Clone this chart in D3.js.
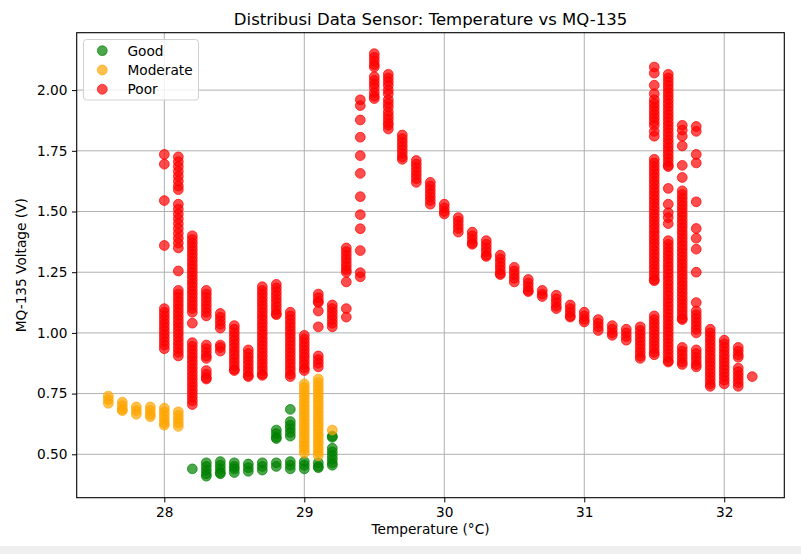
<!DOCTYPE html>
<html><head><meta charset="utf-8">
<script src="https://cdn.jsdelivr.net/npm/d3@7"></script>
<style>body{margin:0;background:#fff;}svg{display:block;}</style>
</head><body>
<svg id="chart" width="801" height="554"></svg>
<script>
const categories = ["Good", "Moderate", "Poor"];
const colors = ["green", "orange", "red"];
const xTicks = [28, 29, 30, 31, 32];
const yTicks = [0.50, 0.75, 1.00, 1.25, 1.50, 1.75, 2.00];

const good = [
  [28.2, [0.44]],
  [28.3, [0.465, 0.45, 0.435, 0.42, 0.41]],
  [28.4, [0.47, 0.455, 0.44, 0.425, 0.42]],
  [28.5, [0.465, 0.45, 0.44, 0.425]],
  [28.6, [0.46, 0.445, 0.43]],
  [28.7, [0.465, 0.45, 0.435]],
  [28.8, [0.465, 0.45, 0.60, 0.585, 0.57, 0.565]],
  [28.9, [0.47, 0.455, 0.44, 0.635, 0.62, 0.605, 0.59, 0.575, 0.685]],
  [29.0, [0.47, 0.455, 0.44]],
  [29.1, [0.465, 0.45, 0.445]],
  [29.2, [0.525, 0.51, 0.495, 0.48, 0.465, 0.455, 0.575, 0.57]]
];

const moderate = [
  [27.6, [0.74, 0.725, 0.71]],
  [27.7, [0.715, 0.70, 0.685, 0.68]],
  [27.8, [0.695, 0.68, 0.665]],
  [27.9, [0.695, 0.68, 0.665, 0.655]],
  [28.0, [0.69, 0.675, 0.66, 0.645, 0.63, 0.62]],
  [28.1, [0.675, 0.66, 0.645, 0.63, 0.615]],
  [29.0, [0.79, 0.775, 0.76, 0.745, 0.73, 0.715, 0.70, 0.685, 0.67, 0.655, 0.64, 0.625, 0.61, 0.595, 0.58, 0.565, 0.55, 0.535, 0.52, 0.505]],
  [29.1, [0.81, 0.795, 0.78, 0.765, 0.75, 0.735, 0.72, 0.705, 0.69, 0.675, 0.66, 0.645, 0.63, 0.615, 0.60, 0.585, 0.57, 0.555, 0.54, 0.525, 0.51, 0.495]],
  [29.2, [0.60]]
];

const poor = [
  [28.0, [1.735, 1.695, 1.545, 1.36, 1.10, 1.085, 1.07, 1.055, 1.04, 1.025, 1.01, 0.995, 0.98, 0.965, 0.95, 0.935]],
  [28.1, [1.725, 1.705, 1.685, 1.665, 1.645, 1.625, 1.605, 1.59, 1.53, 1.51, 1.49, 1.47, 1.45, 1.43, 1.41, 1.39, 1.37, 1.35, 1.255, 1.175, 1.16, 1.145, 1.13, 1.115, 1.10, 1.085, 1.07, 1.055, 1.04, 1.025, 1.01, 0.995, 0.98, 0.965, 0.95, 0.935, 0.92, 0.905]],
  [28.2, [1.40, 1.385, 1.37, 1.355, 1.34, 1.325, 1.31, 1.295, 1.28, 1.265, 1.25, 1.235, 1.22, 1.205, 1.19, 1.175, 1.16, 1.145, 1.13, 1.115, 1.10, 1.085, 1.04, 0.96, 0.945, 0.93, 0.915, 0.90, 0.885, 0.87, 0.855, 0.84, 0.825, 0.81, 0.795, 0.78, 0.765, 0.75, 0.735, 0.72, 0.705]],
  [28.3, [1.175, 1.16, 1.145, 1.13, 1.115, 1.10, 1.085, 1.07, 0.95, 0.935, 0.92, 0.905, 0.895, 0.845, 0.83, 0.815, 0.81]],
  [28.4, [1.08, 1.065, 1.05, 1.035, 1.02, 0.95, 0.94, 0.925]],
  [28.5, [1.03, 1.015, 1.0, 0.985, 0.97, 0.955, 0.94, 0.925, 0.91, 0.895, 0.88, 0.865, 0.85, 0.845]],
  [28.6, [0.93, 0.915, 0.90, 0.885, 0.87, 0.855, 0.84, 0.825, 0.82]],
  [28.7, [1.19, 1.175, 1.16, 1.145, 1.13, 1.115, 1.10, 1.085, 1.07, 1.055, 1.04, 1.025, 1.01, 0.995, 0.98, 0.965, 0.95, 0.935, 0.92, 0.905, 0.89, 0.875, 0.86, 0.845, 0.83, 0.825]],
  [28.8, [1.20, 1.185, 1.17, 1.155, 1.14, 1.125, 1.11, 1.095, 1.08, 1.075]],
  [28.9, [1.085, 1.07, 1.055, 1.04, 1.025, 1.01, 0.995, 0.98, 0.965, 0.95, 0.935, 0.92, 0.905, 0.89, 0.875, 0.86, 0.845, 0.83, 0.82]],
  [29.0, [0.99, 0.975, 0.96, 0.945, 0.93, 0.915, 0.90, 0.885, 0.87, 0.855, 0.845]],
  [29.1, [1.16, 1.145, 1.13, 1.125, 1.09, 1.025, 0.905, 0.89, 0.875, 0.86]],
  [29.2, [1.115, 1.10, 1.085, 1.07, 1.055, 1.04, 1.025]],
  [29.3, [1.35, 1.335, 1.32, 1.305, 1.29, 1.275, 1.26, 1.25, 1.21, 1.10, 1.065]],
  [29.4, [1.96, 1.936, 1.877, 1.806, 1.73, 1.657, 1.561, 1.487, 1.429, 1.339, 1.248, 1.231]],
  [29.5, [2.15, 2.135, 2.12, 2.105, 2.095, 2.055, 2.04, 2.025, 2.01, 1.99, 1.975, 1.965]],
  [29.6, [2.065, 2.05, 2.035, 2.02, 2.0, 1.985, 1.96, 1.945, 1.93, 1.91, 1.895, 1.88, 1.865, 1.855, 1.84]],
  [29.7, [1.815, 1.80, 1.785, 1.77, 1.755, 1.74, 1.725, 1.715]],
  [29.8, [1.71, 1.695, 1.68, 1.665, 1.65, 1.635, 1.62]],
  [29.9, [1.62, 1.605, 1.59, 1.575, 1.56, 1.545, 1.53]],
  [30.0, [1.53, 1.515, 1.50, 1.49]],
  [30.1, [1.475, 1.46, 1.445, 1.43, 1.415]],
  [30.2, [1.415, 1.40, 1.385, 1.37, 1.365]],
  [30.3, [1.38, 1.365, 1.35, 1.335, 1.32, 1.315]],
  [30.4, [1.32, 1.305, 1.29, 1.275, 1.26, 1.245, 1.24]],
  [30.5, [1.27, 1.255, 1.24, 1.225, 1.21]],
  [30.6, [1.22, 1.205, 1.19, 1.175, 1.17]],
  [30.7, [1.175, 1.16, 1.15]],
  [30.8, [1.155, 1.14, 1.125, 1.11, 1.10]],
  [30.9, [1.115, 1.10, 1.085, 1.07, 1.065]],
  [31.0, [1.085, 1.07, 1.055, 1.045]],
  [31.1, [1.055, 1.04, 1.025, 1.01]],
  [31.2, [1.03, 1.015, 1.0, 0.99]],
  [31.3, [1.015, 1.0, 0.985, 0.97]],
  [31.4, [1.025, 1.01, 0.995, 0.98, 0.965, 0.95, 0.935, 0.92, 0.905, 0.895]],
  [31.5, [2.095, 2.07, 2.02, 1.985, 1.96, 1.945, 1.93, 1.915, 1.90, 1.885, 1.87, 1.855, 1.83, 1.81,
          1.715, 1.70, 1.685, 1.67, 1.655, 1.64, 1.625, 1.61, 1.595, 1.58, 1.565, 1.55, 1.535, 1.52, 1.505, 1.49, 1.475, 1.46, 1.445, 1.43, 1.415, 1.40, 1.385, 1.37, 1.355, 1.34, 1.325, 1.31, 1.295, 1.28, 1.265, 1.25, 1.235, 1.22, 1.215,
          1.07, 1.055, 1.04, 1.025, 1.01, 0.995, 0.98, 0.965, 0.95, 0.935, 0.92, 0.91]],
  [31.6, [2.065, 2.05, 2.035, 2.02, 2.005, 1.99, 1.975, 1.96, 1.945, 1.93, 1.915, 1.90, 1.885, 1.87, 1.855, 1.84, 1.825, 1.81, 1.795, 1.78, 1.765, 1.75, 1.735, 1.72, 1.705, 1.69, 1.685,
          1.595, 1.53, 1.495, 1.475, 1.45,
          1.38, 1.365, 1.35, 1.335, 1.32, 1.305, 1.29, 1.275, 1.26, 1.245, 1.23, 1.215, 1.20, 1.185, 1.17, 1.155, 1.14, 1.125, 1.11, 1.095, 1.08, 1.065, 1.05, 1.035, 1.02, 1.005, 0.99, 0.975, 0.96, 0.945, 0.93, 0.915, 0.90, 0.885, 0.88]],
  [31.7, [1.855, 1.835, 1.81, 1.77, 1.69, 1.64,
          1.585, 1.57, 1.555, 1.54, 1.525, 1.51, 1.495, 1.48, 1.465, 1.45, 1.435, 1.42, 1.405, 1.39, 1.375, 1.36, 1.345, 1.33, 1.315, 1.30, 1.285, 1.27, 1.255, 1.24, 1.225, 1.21, 1.195, 1.18, 1.165, 1.15, 1.135, 1.12, 1.105, 1.09, 1.075, 1.06, 1.055,
          0.94, 0.925, 0.91, 0.895, 0.88, 0.87]],
  [31.8, [1.85, 1.83, 1.735, 1.70, 1.54, 1.43, 1.39, 1.345, 1.25, 1.125, 1.09, 1.075, 1.06, 1.045, 1.03, 1.015, 1.0, 0.93, 0.915, 0.90, 0.885, 0.87, 0.86]],
  [31.9, [1.015, 1.0, 0.985, 0.97, 0.955, 0.94, 0.925, 0.91, 0.895, 0.88, 0.865, 0.85, 0.835, 0.82, 0.805, 0.79, 0.78]],
  [32.0, [0.97, 0.955, 0.94, 0.925, 0.91, 0.895, 0.88, 0.865, 0.85, 0.835, 0.82, 0.805, 0.79]],
  [32.1, [0.94, 0.925, 0.91, 0.90, 0.855, 0.84, 0.825, 0.81, 0.795, 0.78]],
  [32.2, [0.82]]
];

const series = [good, moderate, poor];

const svg = d3.select("#chart");
const font = "DejaVu Sans, sans-serif";
const plotL = 76.7, plotR = 784.3, plotT = 32.7, plotB = 497.7;
const markerR = 4.9;
const labelSize = 13.7;

const x = d3.scaleLinear().domain([27.374, 32.429]).range([plotL, plotR]);
const y = d3.scaleLinear().domain([0.3213, 2.2364]).range([plotB, plotT]);

// grid
const grid = svg.append("g");
grid.selectAll("line.gx").data(xTicks).join("line").attr("class", "gx")
  .attr("x1", d => x(d)).attr("x2", d => x(d)).attr("y1", plotT).attr("y2", plotB)
  .attr("stroke", "#b0b0b0").attr("stroke-width", 1);
grid.selectAll("line.gy").data(yTicks).join("line").attr("class", "gy")
  .attr("y1", d => y(d)).attr("y2", d => y(d)).attr("x1", plotL).attr("x2", plotR)
  .attr("stroke", "#b0b0b0").attr("stroke-width", 1);

// points
series.forEach((cols, i) => {
  const pts = [];
  cols.forEach(([t, vs]) => vs.forEach(v => pts.push([t, v])));
  svg.append("g").selectAll("circle").data(pts).join("circle")
    .attr("cx", d => x(d[0])).attr("cy", d => y(d[1])).attr("r", markerR)
    .attr("fill", colors[i]).attr("fill-opacity", 0.7)
    .attr("stroke", colors[i]).attr("stroke-opacity", 0.7).attr("stroke-width", 1);
});

// axes
const xAxis = d3.axisBottom(x).tickValues(xTicks).tickFormat(d3.format("d")).tickSizeOuter(0).tickSize(4.7).tickPadding(4.5);
const yAxis = d3.axisLeft(y).tickValues(yTicks).tickFormat(d3.format(".2f")).tickSizeOuter(0).tickSize(4.7).tickPadding(4.5);
const gx = svg.append("g").attr("transform", `translate(0,${plotB})`).call(xAxis);
const gy = svg.append("g").attr("transform", `translate(${plotL},0)`).call(yAxis);
[gx, gy].forEach(g => {
  g.select(".domain").remove();
  g.selectAll("text").attr("font-family", font).attr("font-size", labelSize).attr("fill", "#000");
  g.selectAll("line").attr("stroke", "#000");
});

// frame
svg.append("rect").attr("x", plotL).attr("y", plotT).attr("width", plotR - plotL).attr("height", plotB - plotT)
  .attr("fill", "none").attr("stroke", "#000").attr("stroke-width", 1.1);

// titles
svg.append("text").attr("x", (plotL + plotR) / 2).attr("y", 25).attr("text-anchor", "middle")
  .attr("font-family", font).attr("font-size", 16.5).text("Distribusi Data Sensor: Temperature vs MQ-135");
svg.append("text").attr("x", (plotL + plotR) / 2).attr("y", 534).attr("text-anchor", "middle")
  .attr("font-family", font).attr("font-size", labelSize).text("Temperature (°C)");
svg.append("text").attr("transform", `translate(26,${(plotT + plotB) / 2}) rotate(-90)`).attr("text-anchor", "middle")
  .attr("font-family", font).attr("font-size", labelSize).text("MQ-135 Voltage (V)");

// legend
const lg = svg.append("g");
lg.append("rect").attr("x", 83.5).attr("y", 39.5).attr("width", 115).attr("height", 60.5).attr("rx", 3)
  .attr("fill", "#fff").attr("fill-opacity", 0.8).attr("stroke", "#d0d0d0");
categories.forEach((c, i) => {
  const yy = 50.7 + i * 19.3;
  lg.append("circle").attr("cx", 102.3).attr("cy", yy).attr("r", markerR)
    .attr("fill", colors[i]).attr("fill-opacity", 0.7).attr("stroke", colors[i]).attr("stroke-opacity", 0.7);
  lg.append("text").attr("x", 127.5).attr("y", yy + 4.8).attr("font-family", font).attr("font-size", labelSize).text(c);
});

// bottom strip
svg.append("rect").attr("x", 0).attr("y", 546).attr("width", 801).attr("height", 8).attr("fill", "#f0f0f0");
</script>
</body></html>
